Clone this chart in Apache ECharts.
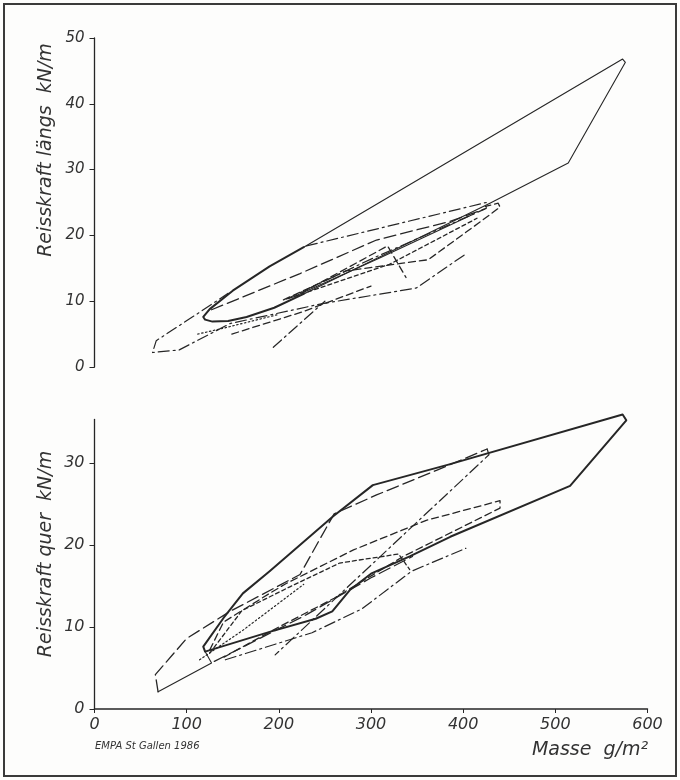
<!DOCTYPE html>
<html><head><meta charset="utf-8">
<script src="https://cdn.jsdelivr.net/npm/echarts@6/dist/echarts.min.js"></script>
<style>html,body{margin:0;padding:0;background:#fdfdfc;}#c{width:680px;height:780px;}</style>
</head><body><div id="c"></div>
<script>
// ---- tick labels ----
const xTicks = [0,100,200,300,400,500,600];
const yTicksTop = [0,10,20,30,40,50];
const yTicksBot = [0,10,20,30];

// ---- top chart: Reisskraft längs (kN/m) vs Masse (g/m²) envelopes ----
const topSolidOuter   = [[227,18.2],[573,46.8],[576,46.3],[514,31.0],[429,24.9],[227,11.1]];
const topSolidLens    = [[227,18.2],[190,15.3],[150,11.6],[125,8.8],[118,7.6],[120,7.2],[128,6.9],[145,7.0],[165,7.6],[195,9.0],[227,11.1]];
const topDashDotUpper = [[230,18.4],[425,25.0],[425,24.1],[300,16.4],[205,10.1]];
const topLongDash     = [[127,8.7],[223,14.2],[306,19.3],[385,22.1],[423,24.0]];
const topDashedRight  = [[205,10.2],[273,14.6],[362,16.3],[416,21.8],[440,24.3],[438,24.9],[424,24.4]];
const topDashedCorner = [[225,11.3],[318,18.4],[338,13.6]];
const topDashDotLeft  = [[401,17.0],[349,12.0],[246,9.6],[147,6.6],[92,2.6],[63,2.2],[67,4.0],[115,8.4],[145,11.2]];
const topDashedLow    = [[149,5.0],[226,8.4],[300,12.3]];
const topDotted       = [[112,5.0],[140,5.9],[200,8.0]];
const topDashDotShort = [[194,3.0],[250,10.0]];
const topConvergeA    = [[215,10.6],[310,16.6],[412,23.3]];
const topConvergeB    = [[210,10.4],[320,15.6],[415,22.6]];

// ---- bottom chart: Reisskraft quer (kN/m) vs Masse (g/m²) envelopes ----
const botSolidOuter   = [[118,7.6],[140,11.1],[161,14.1],[190,16.8],[259,23.5],[302,27.3],[384,29.8],[573,35.9],[577,35.2],[516,27.2],[386,21.0],[342,18.6],[300,16.5],[277,14.5],[258,11.9],[240,11.0],[190,9.4],[120,7.0],[118,7.6]];
const botSolidLow     = [[69,2.1],[127,5.6],[120,7.0]];
const botLongDashLeft = [[69,2.1],[66,4.2],[100,8.6],[147,11.9],[223,16.4],[260,23.8],[306,26.1],[371,29.1],[426,31.7]];
const botDashDotSteep = [[426,31.7],[428,31.0],[196,6.6]];
const botDashedRight  = [[125,7.2],[140,10.6],[190,14.1],[208,15.3],[281,19.4],[360,23.0],[440,25.4],[440,24.5],[335,18.6],[260,13.5],[200,10.0],[140,6.3]];
const botDashDotLow   = [[142,6.0],[236,9.3],[290,12.2],[344,16.8],[403,19.6]];
const botShortDash    = [[125,6.8],[160,12.0],[212,14.9],[266,17.8],[330,18.9],[342,17.0]];
const botDotted       = [[114,6.0],[161,9.6],[227,15.2]];
const botConverge     = [[130,5.8],[230,11.5],[300,16.0],[345,18.6]];

// ---- styles (kept separate from data) ----
const INK = '#262626';
const ST = {
  solid:    {type:'solid', width:1.1},
  bold:     {type:'solid', width:2},
  longdash: {type:[12,5], width:1.3},
  dashed:   {type:[7,4], width:1.3},
  short:    {type:[4,3], width:1.3},
  dashdot:  {type:[11,4,2,4], width:1.2},
  dotted:   {type:[1.5,2.5], width:1.2}
};
const topSeries = [
  [topSolidOuter,'solid'],[topSolidLens,'bold'],[topDashDotUpper,'dashdot'],[topLongDash,'longdash'],
  [topDashedRight,'dashed'],[topDashedCorner,'dashed'],[topDashDotLeft,'dashdot'],[topDashedLow,'dashed'],
  [topDotted,'dotted'],[topDashDotShort,'dashdot'],[topConvergeA,'solid'],[topConvergeB,'short']
];
const botSeries = [
  [botSolidOuter,'bold'],[botSolidLow,'solid'],[botLongDashLeft,'longdash'],[botDashDotSteep,'dashdot'],
  [botDashedRight,'dashed'],[botDashDotLow,'dashdot'],[botShortDash,'short'],[botDotted,'dotted'],[botConverge,'longdash']
];
function mk(list, idx){
  return list.map(([d,s]) => ({
    type:'line', xAxisIndex:idx, yAxisIndex:idx, data:d, showSymbol:false, symbol:'none',
    silent:true, clip:false,
    lineStyle:Object.assign({color:INK, cap:'round', join:'round'}, ST[s])
  }));
}
const FONT = 'DejaVu Sans';
const lab = {color:'#333', fontStyle:'italic', fontFamily:FONT, fontSize:15, fontWeight:300};
const chart = echarts.init(document.getElementById('c'), null, {renderer:'canvas'});
chart.setOption({
  animation:false,
  backgroundColor:'#fdfdfc',
  grid:[
    {left:94.5, width:553, top:38, height:329},
    {left:94.5, width:553, top:419.5, height:289.5}
  ],
  xAxis:[
    {gridIndex:0, type:'value', min:0, max:600, interval:100, show:false},
    {gridIndex:1, type:'value', min:0, max:600, interval:100,
      axisLine:{show:true, onZero:false, lineStyle:{color:INK, width:1.5}},
      axisTick:{show:true, inside:false, length:4, lineStyle:{color:INK}},
      axisLabel:Object.assign({margin:8, customValues:xTicks}, lab, {fontSize:16}),
      splitLine:{show:false}}
  ],
  yAxis:[
    {gridIndex:0, type:'value', min:0, max:50, interval:10,
      axisLine:{show:true, onZero:false, lineStyle:{color:INK, width:1.3}},
      axisTick:{show:true, length:5, lineStyle:{color:INK}, customValues:yTicksTop},
      axisLabel:Object.assign({margin:10, customValues:yTicksTop}, lab),
      splitLine:{show:false}},
    {gridIndex:1, type:'value', min:0, max:35.3, interval:10,
      axisLine:{show:true, onZero:false, lineStyle:{color:INK, width:1.3}},
      axisTick:{show:true, length:5, lineStyle:{color:INK}, customValues:yTicksBot},
      axisLabel:Object.assign({margin:10, customValues:yTicksBot}, lab, {fontSize:16}),
      splitLine:{show:false}}
  ],
  series: mk(topSeries,0).concat(mk(botSeries,1)),
  graphic:[
    {type:'rect', shape:{x:4, y:4, width:672, height:772}, style:{fill:null, stroke:'#3a3a3a', lineWidth:2}, silent:true},
    {type:'text', x:46, y:150, rotation:Math.PI/2,
      style:{text:'Reisskraft längs  kN/m', fill:'#333', font:'italic 300 19px "DejaVu Sans"', textAlign:'center', textVerticalAlign:'middle'}},
    {type:'text', x:46, y:554, rotation:Math.PI/2,
      style:{text:'Reisskraft quer  kN/m', fill:'#333', font:'italic 300 19px "DejaVu Sans"', textAlign:'center', textVerticalAlign:'middle'}},
    {type:'text', x:590, y:750,
      style:{text:'Masse  g/m²', fill:'#333', font:'italic 300 19px "DejaVu Sans"', textAlign:'center', textVerticalAlign:'middle'}},
    {type:'text', x:95, y:746,
      style:{text:'EMPA St Gallen 1986', fill:'#333', font:'italic 300 10px "DejaVu Sans"', textAlign:'left', textVerticalAlign:'middle'}}
  ]
});
</script></body></html>
